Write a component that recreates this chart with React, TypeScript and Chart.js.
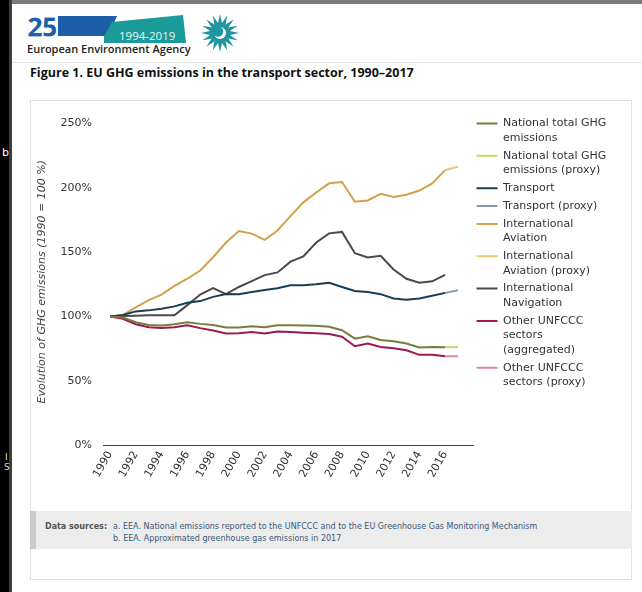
import React, { useEffect, useRef } from 'react';
import { Chart, registerables } from 'chart.js';

Chart.register(...registerables);

// ---------- data ----------
const years = [
  1990, 1991, 1992, 1993, 1994, 1995, 1996, 1997, 1998, 1999,
  2000, 2001, 2002, 2003, 2004, 2005, 2006, 2007, 2008, 2009,
  2010, 2011, 2012, 2013, 2014, 2015, 2016,
];
const proxyYears = [2016, 2017];
const xTickYears = [1990, 1992, 1994, 1996, 1998, 2000, 2002, 2004, 2006, 2008, 2010, 2012, 2014, 2016];
const yTickValues = [0, 50, 100, 150, 200, 250];

const nationalTotal = [100, 99.1, 95.5, 93.4, 92.9, 93.9, 95.5, 94.2, 93.4, 91.4, 91.4, 92.4, 91.6, 93.2, 93.2, 92.9, 92.7, 91.9, 89.3, 82.7, 84.5, 81.7, 80.6, 78.9, 75.8, 76.3, 76.0];
const nationalTotalProxy = [76.0, 76.3];
const transport = [100, 101.1, 103.9, 104.7, 106.0, 107.8, 110.6, 111.9, 115.2, 117.5, 117.3, 119.0, 120.6, 121.9, 124.2, 124.2, 125.0, 126.2, 122.9, 119.8, 119.0, 117.3, 113.9, 112.9, 113.9, 116.0, 118.3];
const transportProxy = [118.3, 120.3];
const intlAviation = [100, 101, 107, 112.7, 117, 123.7, 129.3, 135.7, 146, 157.5, 166.4, 164.4, 159.5, 166.8, 178, 188.7, 196.4, 203.5, 204.5, 189.2, 190.2, 195.3, 192.8, 194.6, 197.9, 203.5, 213.8];
const intlAviationProxy = [213.8, 216.4];
const intlNavigation = [100, 100.3, 100.6, 100.9, 100.9, 100.9, 108.8, 117, 122.1, 117.3, 122.9, 127.5, 132.1, 134.2, 142.6, 146.7, 157.5, 164.6, 165.7, 149.2, 145.9, 147.2, 136.5, 129.3, 126.2, 127.3, 132.3];
const otherSectors = [100, 98.1, 93.9, 91.6, 90.9, 91.6, 93.2, 90.9, 89.1, 86.8, 87.0, 87.8, 86.8, 88.3, 87.8, 87.3, 87.0, 86.3, 84.2, 76.8, 78.9, 76.3, 75.3, 73.7, 70.1, 70.1, 69.1];
const otherSectorsProxy = [69.1, 69.1];

const seriesLabels = [
  ['National total GHG', 'emissions'],
  ['National total GHG', 'emissions (proxy)'],
  ['Transport'],
  ['Transport (proxy)'],
  ['International', 'Aviation'],
  ['International', 'Aviation (proxy)'],
  ['International', 'Navigation'],
  ['Other UNFCCC', 'sectors', '(aggregated)'],
  ['Other UNFCCC', 'sectors (proxy)'],
];
const seriesColors = ['#7c7b3f', '#c9d66c', '#1a3d56', '#7f9bb3', '#d4a04c', '#e8c870', '#4a4a4a', '#9b1a4f', '#d78aab'];

const yTitle = 'Evolution of GHG emissions (1990 = 100 %)';
const pageTitle = 'Figure 1. EU GHG emissions in the transport sector, 1990\u20132017';

const toPoints = (xs: number[], ys: number[]) => xs.map((x, i) => ({ x, y: ys[i] }));

function SunLogo() {
  const rays = Array.from({ length: 16 }, (_, i) => i * 22.5);
  return (
    <g transform="translate(220,33)">
      {rays.map((a) => (
        <path key={a} d="M -2.2 -9 L 0 -19 L 2.2 -9 Z" fill="#1f95a0" transform={`rotate(${a})`} />
      ))}
      <circle r="9.5" fill="#1f95a0" />
      <circle r="6" fill="#fff" />
      <circle cx="-2" cy="-1.5" r="5.2" fill="#1f95a0" />
    </g>
  );
}

export default function App() {
  const ref = useRef<HTMLCanvasElement>(null);

  useEffect(() => {
    const canvas = ref.current;
    if (!canvas) return;
    const font = { family: 'DejaVu Sans', size: 11 };
    const dataSets = [
      toPoints(years, nationalTotal),
      toPoints(proxyYears, nationalTotalProxy),
      toPoints(years, transport),
      toPoints(proxyYears, transportProxy),
      toPoints(years, intlAviation),
      toPoints(proxyYears, intlAviationProxy),
      toPoints(years, intlNavigation),
      toPoints(years, otherSectors),
      toPoints(proxyYears, otherSectorsProxy),
    ];
    const chart = new Chart(canvas, {
      type: 'line',
      data: {
        datasets: dataSets.map((d, i) => ({
          label: seriesLabels[i].join(' '),
          data: d,
          borderColor: seriesColors[i],
          backgroundColor: seriesColors[i],
          borderWidth: 2,
          pointRadius: 0,
          tension: 0,
          fill: false,
        })),
      },
      options: {
        responsive: false,
        animation: false,
        devicePixelRatio: 1,
        layout: { padding: { top: 13.5, right: 18, bottom: 0, left: 0 } },
        plugins: {
          tooltip: { enabled: false },
          legend: {
            position: 'right',
            align: 'start',
            maxWidth: 140,
            labels: {
              boxWidth: 21,
              boxHeight: 2,
              padding: 3.5,
              color: '#333',
              font: { family: 'DejaVu Sans', size: 11, lineHeight: 1.31 },
              generateLabels: () =>
                seriesLabels.map((lines, i) => ({
                  text: lines as any,
                  fillStyle: seriesColors[i],
                  strokeStyle: seriesColors[i],
                  lineWidth: 0,
                  hidden: false,
                  datasetIndex: i,
                  fontColor: '#333',
                })),
            },
          },
        },
        scales: {
          x: {
            type: 'linear',
            min: 1989.457,
            max: 2018.164,
            afterBuildTicks: (axis: any) => {
              axis.ticks = xTickYears.map((v) => ({ value: v }));
            },
            afterFit: (axis: any) => {
              axis.height = 60;
            },
            grid: { display: false, drawTicks: false },
            border: { display: true, color: '#444', width: 1 },
            ticks: {
              autoSkip: false,
              minRotation: 60,
              maxRotation: 60,
              padding: 4,
              color: '#333',
              font,
              callback: (v: any) => String(v),
            },
          },
          y: {
            min: 0,
            max: 253.84,
            afterBuildTicks: (axis: any) => {
              axis.ticks = yTickValues.map((v) => ({ value: v }));
            },
            afterFit: (axis: any) => {
              axis.width = 72;
            },
            grid: { display: false, drawTicks: false },
            border: { display: false },
            ticks: {
              padding: 11,
              color: '#333',
              font,
              callback: (v: any) => `${v}%`,
            },
            title: {
              display: true,
              text: yTitle,
              color: '#444',
              font: { family: 'DejaVu Sans', size: 11, style: 'italic' },
              padding: { top: 5, bottom: 0 },
            },
          },
        },
      },
    } as any);
    return () => chart.destroy();
  }, []);

  return (
    <div
      style={{
        position: 'fixed',
        left: 0,
        top: 0,
        width: 642,
        height: 592,
        overflow: 'hidden',
        background: '#fff',
        fontFamily: 'DejaVu Sans',
      }}
    >
      {/* top bar */}
      <div style={{ position: 'absolute', left: 0, top: 0, width: 642, height: 4, background: '#7a7a7a' }} />
      {/* left black strip */}
      <div style={{ position: 'absolute', left: 0, top: 0, width: 9, height: 592, background: '#000' }} />
      <div style={{ position: 'absolute', left: 9, top: 0, width: 3, height: 592, background: '#3c3c3c' }} />
      <div style={{ position: 'absolute', left: 2, top: 147, color: '#fff', fontSize: 11, lineHeight: '12px' }}>b</div>
      <div style={{ position: 'absolute', left: 5, top: 452, color: '#ddd', fontSize: 9, lineHeight: '10px' }}>I</div>
      <div style={{ position: 'absolute', left: 4, top: 462, color: '#ddd', fontSize: 9, lineHeight: '10px' }}>S</div>

      {/* logo */}
      <svg width={260} height={60} style={{ position: 'absolute', left: 0, top: 0 }}>
        <polygon points="58,16 117,16 108,36 58,36" fill="#1d5ea8" />
        <text x={27} y={37} fontSize={28} fontWeight={800} fill="#1d5ea8" stroke="#fff" strokeWidth={1} fontFamily="Open Sans" letterSpacing={-2}>25</text>
        <polygon points="104,36 112,22 183,15 186,43 104,43" fill="#1a9a98" />
        <text x={119} y={40} fontSize={11.5} fill="#e8f6f6" fontFamily="Open Sans">1994-2019</text>
        <text x={27} y={53} fontSize={11} fontWeight={600} fill="#222" fontFamily="Open Sans">European Environment Agency</text>
        <SunLogo />
      </svg>

      {/* separator */}
      <div style={{ position: 'absolute', left: 12, top: 62, width: 630, height: 1, background: '#e2e2e2' }} />

      {/* title */}
      <div
        style={{
          position: 'absolute',
          left: 30,
          top: 64,
          fontFamily: 'Open Sans',
          fontWeight: 700,
          fontSize: 12.5,
          lineHeight: '18px',
          color: '#111',
          whiteSpace: 'nowrap',
        }}
      >
        {pageTitle}
      </div>

      {/* card */}
      <div
        style={{
          position: 'absolute',
          left: 30,
          top: 100,
          width: 602,
          height: 480,
          border: '1px solid #e2e2e2',
          boxSizing: 'border-box',
        }}
      />
      <canvas
        ref={ref}
        width={600}
        height={404}
        style={{ position: 'absolute', left: 31, top: 101, width: 600, height: 404 }}
      />

      {/* data sources */}
      <div
        style={{
          position: 'absolute',
          left: 30,
          top: 511,
          width: 602,
          height: 38,
          background: '#ececec',
          borderLeft: '6px solid #c9c9c9',
          boxSizing: 'border-box',
        }}
      />
      <div style={{ position: 'absolute', left: 45, top: 521, fontSize: 8, lineHeight: '12px', color: '#555', fontWeight: 700 }}>
        Data sources:
      </div>
      <div style={{ position: 'absolute', left: 113, top: 521, fontSize: 8, lineHeight: '12px', color: '#3a5a78', whiteSpace: 'nowrap' }}>
        <div>a. EEA. National emissions reported to the UNFCCC and to the EU Greenhouse Gas Monitoring Mechanism</div>
        <div>b. EEA. Approximated greenhouse gas emissions in 2017</div>
      </div>
    </div>
  );
}
